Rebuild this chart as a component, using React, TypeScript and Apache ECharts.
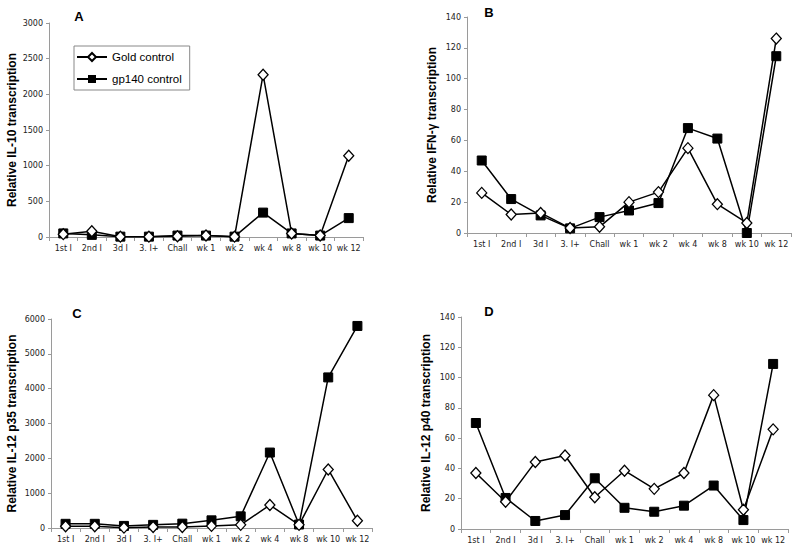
import React, { useEffect, useRef } from "react";
import * as echarts from "echarts";

const categories = ["1st I", "2nd I", "3d I", "3. I+", "Chall", "wk 1", "wk 2", "wk 4", "wk 8", "wk 10", "wk 12"];

const il10Gold = [40, 80, 5, 5, 10, 20, 5, 2275, 50, 20, 1140];
const il10Gp140 = [50, 30, 5, 5, 20, 20, 5, 342, 50, 20, 265];

const ifnGold = [26, 12, 13, 3.2, 4, 20, 26.5, 55, 18.7, 6.5, 126];
const ifnGp140 = [47, 22, 11.4, 3, 10.3, 14.6, 19.4, 68, 61.2, 0, 114.6];

const p35Gold = [50, 50, 10, 30, 30, 60, 90, 660, 90, 1680, 210];
const p35Gp140 = [120, 120, 60, 90, 125, 220, 335, 2166, 100, 4323, 5800];

const p40Gold = [37, 18, 44.3, 48.5, 21, 38.5, 26.5, 37, 88.4, 12.7, 65.8];
const p40Gp140 = [70, 20.5, 5.3, 9.2, 33.5, 14, 11.4, 15.4, 28.7, 5.9, 109];

const yTitles = [
  "Relative IL-10 transcription",
  "Relative IFN-\u03b3 transcription",
  "Relative IL-12 p35 transcription",
  "Relative IL-12 p40 transcription",
];
const yMax = [3000, 140, 6000, 140];
const yInterval = [500, 20, 1000, 20];
const panelLetters = ["A", "B", "C", "D"];

const goldName = "Gold control";
const gpName = "gp140 control";

export default function App() {
  const ref = useRef<HTMLDivElement>(null);
  useEffect(() => {
    if (!ref.current) return;
    const chart = echarts.init(ref.current, undefined, { renderer: "svg" });
    const grids = [
      { left: 49, top: 23, width: 314, height: 214 },
      { left: 467, top: 17, width: 324, height: 216 },
      { left: 51, top: 319, width: 321, height: 209 },
      { left: 461, top: 317, width: 327, height: 212 },
    ];
    const nameGaps = [31, 29, 33, 29];
    const letterPos = [
      [79, 16],
      [489, 12],
      [77, 313],
      [489, 311],
    ];
    const goldData = [il10Gold, ifnGold, p35Gold, p40Gold];
    const gpData = [il10Gp140, ifnGp140, p35Gp140, p40Gp140];
    const axisColor = "#9a9a9a";
    const labelStyle = { fontFamily: "DejaVu Sans", fontSize: 8, color: "#222" };

    const series: any[] = [];
    for (let i = 0; i < 4; i++) {
      series.push({
        type: "line",
        name: goldName,
        xAxisIndex: i,
        yAxisIndex: i,
        data: goldData[i],
        symbol: "diamond",
        symbolSize: [10, 11],
        lineStyle: { color: "#000", width: 1.5 },
        itemStyle: { color: "#fff", borderColor: "#000", borderWidth: 1.3 },
        z: 3,
      });
      series.push({
        type: "line",
        name: gpName,
        xAxisIndex: i,
        yAxisIndex: i,
        data: gpData[i],
        symbol: "rect",
        symbolSize: 9,
        lineStyle: { color: "#000", width: 1.5 },
        itemStyle: { color: "#000", borderColor: "#000" },
        z: 2,
      });
    }

    chart.setOption({
      animation: false,
      backgroundColor: "#fff",
      grid: grids,
      legend: {
        left: 74,
        top: 46,
        orient: "vertical",
        data: [goldName, gpName],
        borderColor: "#888",
        borderWidth: 1,
        padding: [5, 8, 5, 2],
        itemWidth: 30,
        itemHeight: 10,
        itemGap: 10,
        textStyle: { fontFamily: "Liberation Sans", fontSize: 11.5, color: "#000" },
      },
      xAxis: grids.map((_, i) => ({
        type: "category",
        gridIndex: i,
        data: categories,
        boundaryGap: true,
        axisLine: { lineStyle: { color: axisColor, width: 1 } },
        axisTick: { show: true, length: 4, lineStyle: { color: axisColor } },
        axisLabel: { ...labelStyle, margin: 7, interval: 0 },
        splitLine: { show: false },
      })),
      yAxis: grids.map((_, i) => ({
        type: "value",
        gridIndex: i,
        min: 0,
        max: yMax[i],
        interval: yInterval[i],
        name: yTitles[i],
        nameLocation: "middle",
        nameRotate: 90,
        nameGap: nameGaps[i],
        nameTextStyle: { fontFamily: "Liberation Sans", fontSize: 12, fontWeight: "bold", color: "#000" },
        axisLine: { show: true, lineStyle: { color: axisColor, width: 1 } },
        axisTick: { show: true, length: 3, lineStyle: { color: axisColor } },
        axisLabel: { ...labelStyle, margin: 6, formatter: (v: number) => String(v) },
        splitLine: { show: false },
      })),
      graphic: panelLetters.map((t, i) => ({
        type: "text",
        x: letterPos[i][0],
        y: letterPos[i][1],
        style: {
          text: t,
          fontFamily: "Liberation Sans",
          fontSize: 13,
          fontWeight: "bold",
          fill: "#000",
          align: "center",
          verticalAlign: "middle",
        },
      })),
      series,
    });
    return () => chart.dispose();
  }, []);
  return <div ref={ref} style={{ width: 800, height: 550, position: "absolute", left: 0, top: 0 }} />;
}
